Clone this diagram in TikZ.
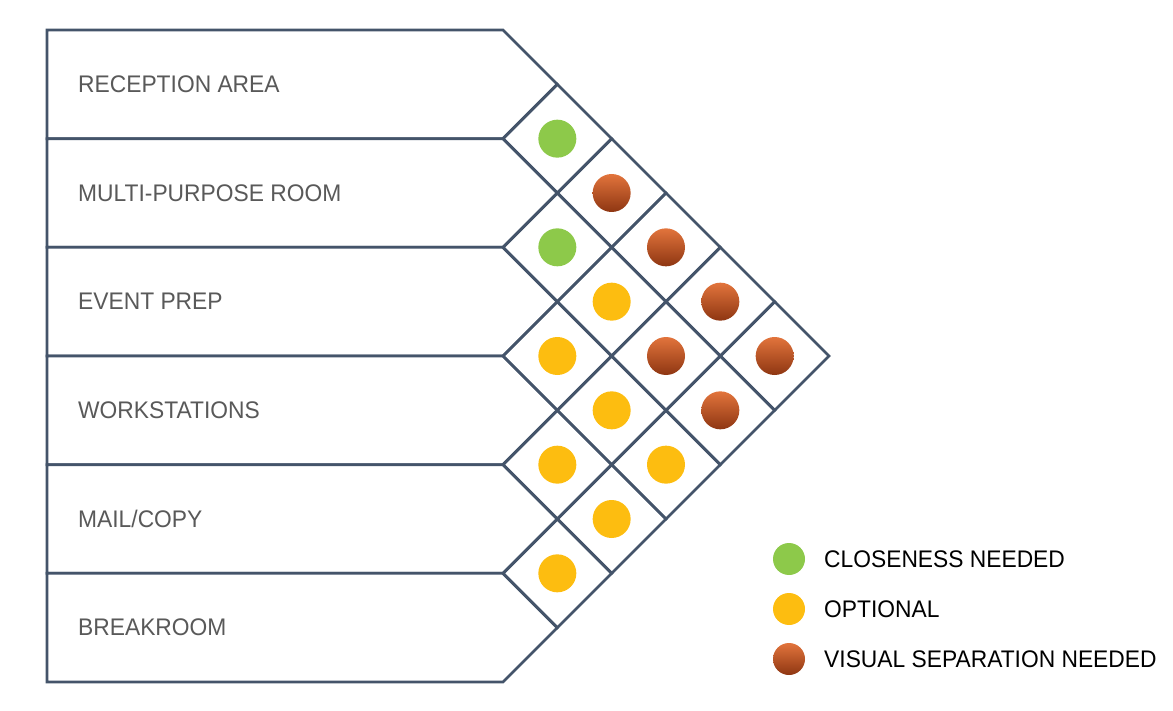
\documentclass[tikz,border=0pt]{standalone}
\usepackage{fontspec}
\setmainfont{Liberation Sans}[FakeStretch=0.95]
\definecolor{strk}{HTML}{44546A}
\definecolor{lbl}{HTML}{595959}
\definecolor{cgreen}{HTML}{8DC94A}
\definecolor{cyellow}{HTML}{FDBD10}
\definecolor{credtop}{HTML}{E2743C}
\definecolor{credbot}{HTML}{8E3612}
\begin{document}
\begin{tikzpicture}[x=1pt,y=-1pt,
  frame/.style={draw=strk,line width=2.8pt,line join=miter},
  rowlabel/.style={anchor=west,text=lbl,font=\fontsize{24}{28}\selectfont,inner sep=0pt},
  leglabel/.style={anchor=west,text=black,font=\fontsize{24}{28}\selectfont,inner sep=0pt},
  dotG/.style={circle,fill=cgreen,minimum size=38pt,inner sep=0pt},
  dotY/.style={circle,fill=cyellow,minimum size=38pt,inner sep=0pt},
  dotR/.style={circle,top color=credtop,bottom color=credbot,minimum size=38pt,inner sep=0pt},
  legdot/.style={minimum size=32pt}]
\useasboundingbox (0,0) rectangle (1173,711);
\def\h{108.667}
\def\hh{54.333}
% rows (pentagons)
\foreach \k/\txt in {1/{RECEPTION AREA},2/{MULTI-PURPOSE ROOM},3/{EVENT PREP},4/{WORKSTATIONS},5/{MAIL/COPY},6/{BREAKROOM}}{
  \pgfmathsetmacro{\yt}{30+\h*(\k-1)}
  \pgfmathsetmacro{\yb}{30+\h*\k}
  \pgfmathsetmacro{\ym}{30+\h*(\k-0.5)}
  \draw[frame,fill=white] (47,\yt) -- (503,\yt) -- (557.333,\ym) -- (503,\yb) -- (47,\yb) -- cycle;
  \node[rowlabel] (row\k) at (78,\ym) {\txt};
}
% cells
\foreach \i/\j/\s in {1/2/dotG,2/3/dotG,1/3/dotR,3/4/dotY,2/4/dotY,1/4/dotR,4/5/dotY,3/5/dotY,2/5/dotR,1/5/dotR,5/6/dotY,4/6/dotY,3/6/dotY,2/6/dotR,1/6/dotR}{
  \pgfmathsetmacro{\cx}{503+\hh*(\j-\i)}
  \pgfmathsetmacro{\cy}{30+\h*(\i+\j-1)/2}
  \draw[frame] (\cx-\hh,\cy) -- (\cx,\cy-\hh) -- (\cx+\hh,\cy) -- (\cx,\cy+\hh) -- cycle;
  \node[\s] (c-\i-\j) at (\cx,\cy) {};
}
% legend
\node[dotG,legdot] (lg1) at (789,559) {};
\node[dotY,legdot] (lg2) at (789,609) {};
\node[dotR,legdot] (lg3) at (789,659) {};
\node[leglabel] (lt1) at (824,559) {CLOSENESS NEEDED};
\node[leglabel] (lt2) at (824,609) {OPTIONAL};
\node[leglabel] (lt3) at (824,659) {VISUAL SEPARATION NEEDED};
\end{tikzpicture}
\end{document}
